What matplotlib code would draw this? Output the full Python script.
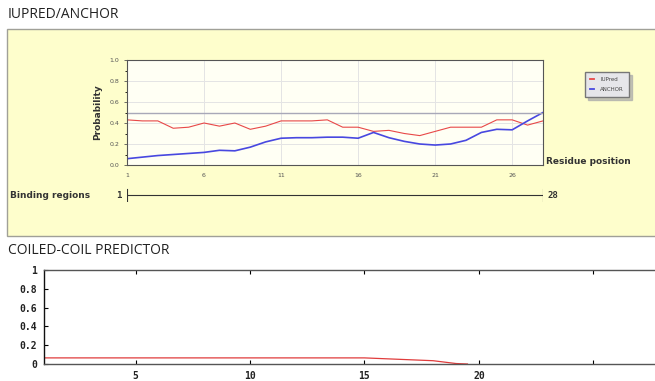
import matplotlib
matplotlib.use("Agg")
import matplotlib.pyplot as plt
from matplotlib.patches import Rectangle

## data
positions = list(range(1, 29))
iupred = [0.43, 0.42, 0.42, 0.35, 0.36, 0.40, 0.37, 0.40, 0.34, 0.37,
          0.42, 0.42, 0.42, 0.43, 0.36, 0.36, 0.32, 0.33, 0.30, 0.28,
          0.32, 0.36, 0.36, 0.36, 0.43, 0.43, 0.38, 0.42]
anchor = [0.06, 0.075, 0.09, 0.10, 0.11, 0.12, 0.14, 0.135, 0.17, 0.22,
          0.255, 0.26, 0.26, 0.265, 0.265, 0.255, 0.31, 0.26, 0.225, 0.20,
          0.19, 0.20, 0.235, 0.31, 0.34, 0.335, 0.42, 0.50]
binding_region = (1, 28)
iupred_ticks = [1, 6, 11, 16, 21, 26]

cc_positions = list(range(1, 20)) + [19.5]
cc_values = [0.065] * 15 + [0.055, 0.045, 0.035, 0.005, 0.0]
cc_ticks = [5, 10, 15, 20, 25]
cc_ticklabels = ["5", "10", "15", "20", ""]

W, H = 655, 381

def box(x0, y0, x1, y1):
    ## pixel box (top-left origin) -> figure fraction
    return [x0 / W, 1 - y1 / H, (x1 - x0) / W, (y1 - y0) / H]

fig = plt.figure(figsize=(W / 100, H / 100), dpi=100)
fig.patch.set_facecolor("white")

## section titles
fig.text(8 / W, 1 - 15 / H, "IUPRED/ANCHOR", fontsize=10, family="Open Sans",
         va="center", ha="left", color="#222222")
fig.text(8 / W, 1 - 250 / H, "COILED-COIL PREDICTOR", fontsize=10, family="Open Sans",
         va="center", ha="left", color="#222222")

## yellow panel (behind everything)
fig.patches.append(Rectangle((7 / W, 1 - 236 / H), 660 / W, 207 / H,
                             transform=fig.transFigure, facecolor="#fefecc",
                             edgecolor="#a0a098", linewidth=1.0, zorder=-5))

## IUPred / ANCHOR plot
ax = fig.add_axes(box(127, 60, 543, 165))
ax.set_facecolor("#fffff4")
ax.plot(positions, iupred, color="#e84848", linewidth=0.8, label="IUPred")
ax.plot(positions, anchor, color="#4848e0", linewidth=1.2, label="ANCHOR")
ax.axhline(0.5, color="#a8a8b8", linewidth=1.0)
ax.set_xlim(1, 28)
ax.set_ylim(0, 1)
ax.set_xticks(iupred_ticks)
ax.set_yticks([0, 0.2, 0.4, 0.6, 0.8, 1.0])
ax.set_yticklabels(["0.0", "0.2", "0.4", "0.6", "0.8", "1.0"])
ax.set_yticks([0.1, 0.3, 0.5, 0.7, 0.9], minor=True)
ax.tick_params(labelsize=4.5, colors="#555555", length=2, width=0.6)
ax.tick_params(axis="y", which="minor", length=1.5, width=0.6)
ax.tick_params(axis="x", length=0, pad=6)
ax.grid(color="#e4e4e4", linewidth=0.7)
for s in ax.spines.values():
    s.set_color("#555555")
    s.set_linewidth(0.8)
ax.set_ylabel("Probability", fontsize=6.5, fontweight="bold", color="#333333", labelpad=5)
ax.text(1.007, 0.03, "Residue position", transform=ax.transAxes, fontsize=6.5,
        fontweight="bold", color="#333333", ha="left", va="center")

leg = fig.legend(loc="upper left", bbox_to_anchor=(582 / W, 1 - 69 / H), fontsize=4.0,
                 frameon=True, fancybox=False, shadow={"color": "#aaaaaa", "alpha": 0.7},
                 facecolor="#e6e6ea", edgecolor="#777777", handlelength=0.7,
                 handletextpad=1.2, borderpad=0.9, labelspacing=0.9, framealpha=1,
                 labelcolor="#444444")
for h in leg.legend_handles:
    h.set_linewidth(1.3)

## binding regions row
bx = fig.add_axes(box(127, 188, 543, 202))
bx.set_xlim(1, 28)
bx.set_ylim(-1, 1)
bx.axis("off")
bx.plot([binding_region[0], binding_region[1]], [0, 0], color="#333333", linewidth=0.8)
bx.plot([binding_region[0]] * 2, [-0.9, 0.9], color="#333333", linewidth=0.8)
bx.plot([binding_region[1]] * 2, [-0.9, 0.9], color="#333333", linewidth=0.8)
fig.text(10 / W, 1 - 195 / H, "Binding regions", fontsize=6.5, fontweight="bold",
         color="#333333", va="center")
fig.text(116 / W, 1 - 195 / H, str(binding_region[0]), fontsize=6.5, fontweight="bold",
         family="DejaVu Sans Mono", color="#333333", va="center")
fig.text(548 / W, 1 - 195 / H, str(binding_region[1]), fontsize=6.5, fontweight="bold",
         family="DejaVu Sans Mono", color="#333333", va="center")

## coiled-coil plot
cx = fig.add_axes(box(44, 270, 662, 364))
cx.plot(cc_positions, cc_values, color="#e03c3c", linewidth=0.9)
cx.set_xlim(1, 28)
cx.set_ylim(0, 1)
cx.set_xticks(cc_ticks)
cx.set_xticklabels(cc_ticklabels)
cx.set_yticks([0, 0.2, 0.4, 0.6, 0.8, 1.0])
cx.set_yticklabels(["0", "0.2", "0.4", "0.6", "0.8", "1"])
cx.tick_params(direction="in", top=True, length=3, width=0.8, labelsize=7, pad=5)
for lab in cx.get_xticklabels() + cx.get_yticklabels():
    lab.set_family("DejaVu Sans Mono")
    lab.set_fontweight("bold")
    lab.set_color("#222222")
for s in cx.spines.values():
    s.set_color("#555555")
    s.set_linewidth(1.0)
cx.spines["left"].set_color("#111111")

plt.savefig("out.png", dpi=100)
